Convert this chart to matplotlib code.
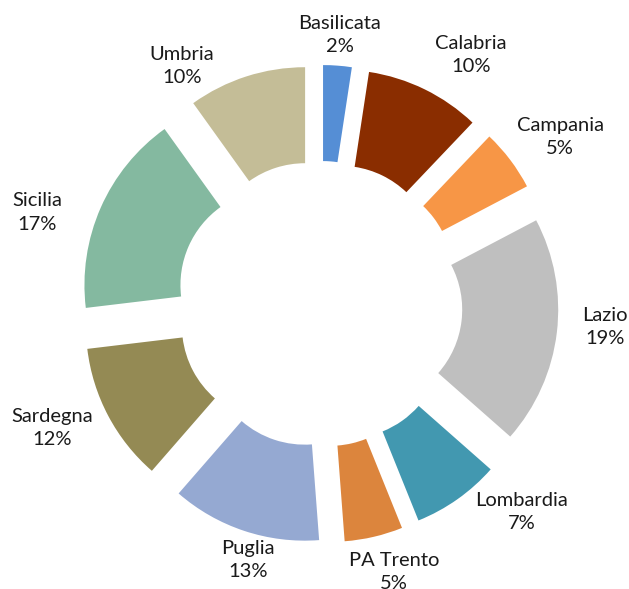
import numpy as np
import matplotlib.pyplot as plt

regioni = ["Basilicata", "Calabria", "Campania", "Lazio", "Lombardia",
           "PA Trento", "Puglia", "Sardegna", "Sicilia", "Umbria"]
# quote stimate dall'ampiezza degli spicchi (le etichette mostrano i valori arrotondati)
quote = [2.4, 9.7, 5.2, 19.2, 7.4, 4.9, 12.6, 11.7, 17.0, 9.9]
colori = ["#558ED5", "#8A2D00", "#F79646", "#BFBFBF", "#4298B0",
          "#DC853D", "#95A9D2", "#948A54", "#84B9A0", "#C4BD97"]

# posizione etichette: scostamento angolare (gradi, orario) dal centro dello spicchio
# e distanza dal centro della ciambella (in raggi)
lab_dang = [0.0, 5.2, 2.3, -2.2, -8.9, -2.4, -2.8, 3.0, -5.8, -12.2]
lab_dist = [1.405, 1.516, 1.526, 1.49, 1.512, 1.45, 1.385, 1.535, 1.547, 1.432]

plt.rcParams["font.family"] = ["Lato", "DejaVu Sans"]

W, H = 629, 589
cx, cy = 319.5, 304     # centro in pixel (dall'alto)
R = 192.0               # raggio esterno in pixel

fig = plt.figure(figsize=(W / 100, H / 100), dpi=100)
ax = fig.add_axes([0, 0, 1, 1])

wedges, _ = ax.pie(
    quote,
    colors=colori,
    startangle=90,
    counterclock=False,
    radius=1.0,
    explode=[0.245] * len(quote),
    wedgeprops=dict(width=0.5, linewidth=0),
)

# etichette "Regione\nxx%"
cum = np.cumsum([0] + quote[:-1])
tot = sum(quote)
for i, (reg, q) in enumerate(zip(regioni, quote)):
    mid = 360.0 * (cum[i] + q / 2) / tot + lab_dang[i]   # gradi, orario dall'alto
    a = np.radians(mid)
    x = lab_dist[i] * np.sin(a)
    y = lab_dist[i] * np.cos(a)
    pct = int(np.floor(q + 0.5))
    ax.text(x, y, f"{reg}\n{pct}%", ha="center", va="center",
            multialignment="center", fontsize=14.5, color="#1a1a1a",
            linespacing=1.45)

ax.set_aspect("auto")
ax.set_xlim(-cx / R, (W - cx) / R)
ax.set_ylim(-(H - cy) / R, cy / R)
ax.axis("off")

fig.savefig("out.png", dpi=100)
